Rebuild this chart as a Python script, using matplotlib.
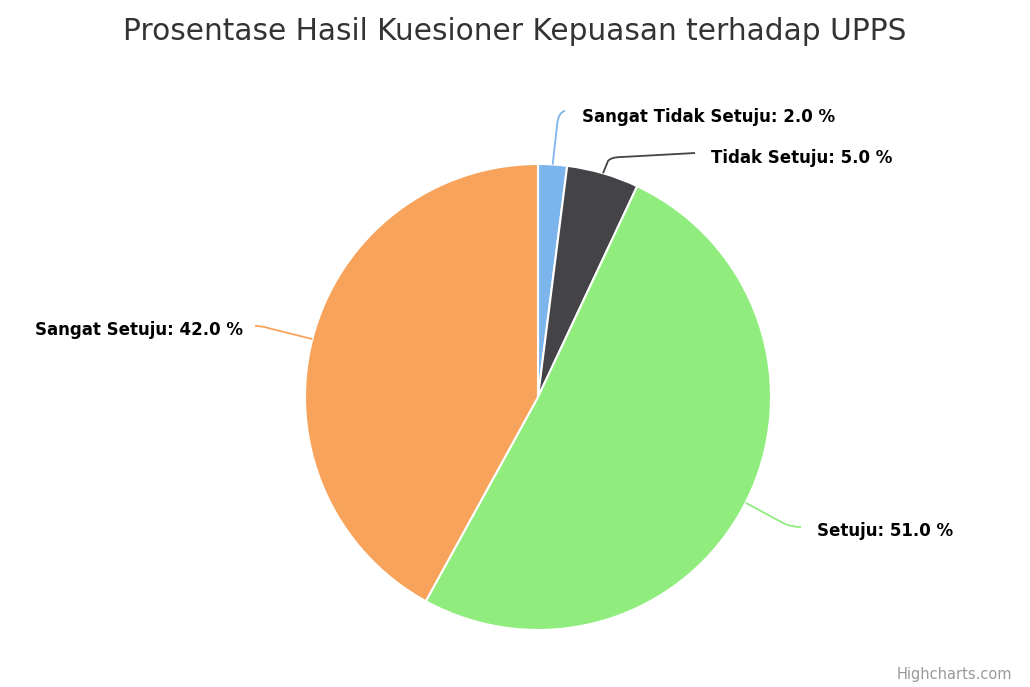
import numpy as np
import matplotlib.pyplot as plt
from matplotlib.path import Path
from matplotlib.patches import PathPatch

# data
categories = ['Sangat Tidak Setuju', 'Tidak Setuju', 'Setuju', 'Sangat Setuju']
values = [2.0, 5.0, 51.0, 42.0]
colors = ['#7cb5ec', '#434348', '#90ed7d', '#f7a35c']
title = 'Prosentase Hasil Kuesioner Kepuasan terhadap UPPS'

W, H = 1030, 687
fig = plt.figure(figsize=(W / 100, H / 100), dpi=100)
ax = fig.add_axes([0, 0, 1, 1])

def py(y):
    # pixel y (from top) -> data y
    return H - y

cx, cy, r = 538, py(397), 233
wedges, _ = ax.pie(values, colors=colors, startangle=90, counterclock=False,
                   center=(cx, cy), radius=r,
                   wedgeprops=dict(edgecolor='white', linewidth=1.5))
ax.set_xlim(0, W)
ax.set_ylim(0, H)
ax.set_aspect('equal')
ax.axis('off')

# label layout: text x, text y (pixels), alignment, connector points after the edge
layout = [
    (582, 117, 'left', [(557, 126), (558, 112), (565, 111)]),
    (711, 158, 'left', [(608, 161), (611, 157), (622, 157), (695, 153)]),
    (817, 531, 'left', [(785, 524), (792, 527), (801, 527)]),
    (243, 330, 'right', [(268, 328), (262, 326), (255, 326)]),
]

for w, cat, val, col, (tx, ty, ha, pts) in zip(wedges, categories, values, colors, layout):
    ang = np.deg2rad((w.theta1 + w.theta2) / 2)
    ex = cx + r * np.cos(ang)
    ey = cy + r * np.sin(ang)
    verts = [(ex, ey)] + [(x, py(y)) for x, y in pts]
    codes = [Path.MOVETO, Path.LINETO] + [Path.CURVE3, Path.CURVE3] + [Path.LINETO] * (len(pts) - 3)
    ax.add_patch(PathPatch(Path(verts, codes), fill=False, edgecolor=col, lw=1.3))
    ax.text(tx, py(ty), f'{cat}: {val:.1f} %', ha=ha, va='center',
            fontsize=12, fontweight='bold', color='#000000', family='DejaVu Sans')

ax.text(515, py(31), title, ha='center', va='center', fontsize=21.3, color='#333333',
        family='DejaVu Sans')
ax.text(1012, py(674), 'Highcharts.com', ha='right', va='center', fontsize=10.5, color='#999999')

fig.savefig('out.png', dpi=100, facecolor='white')
